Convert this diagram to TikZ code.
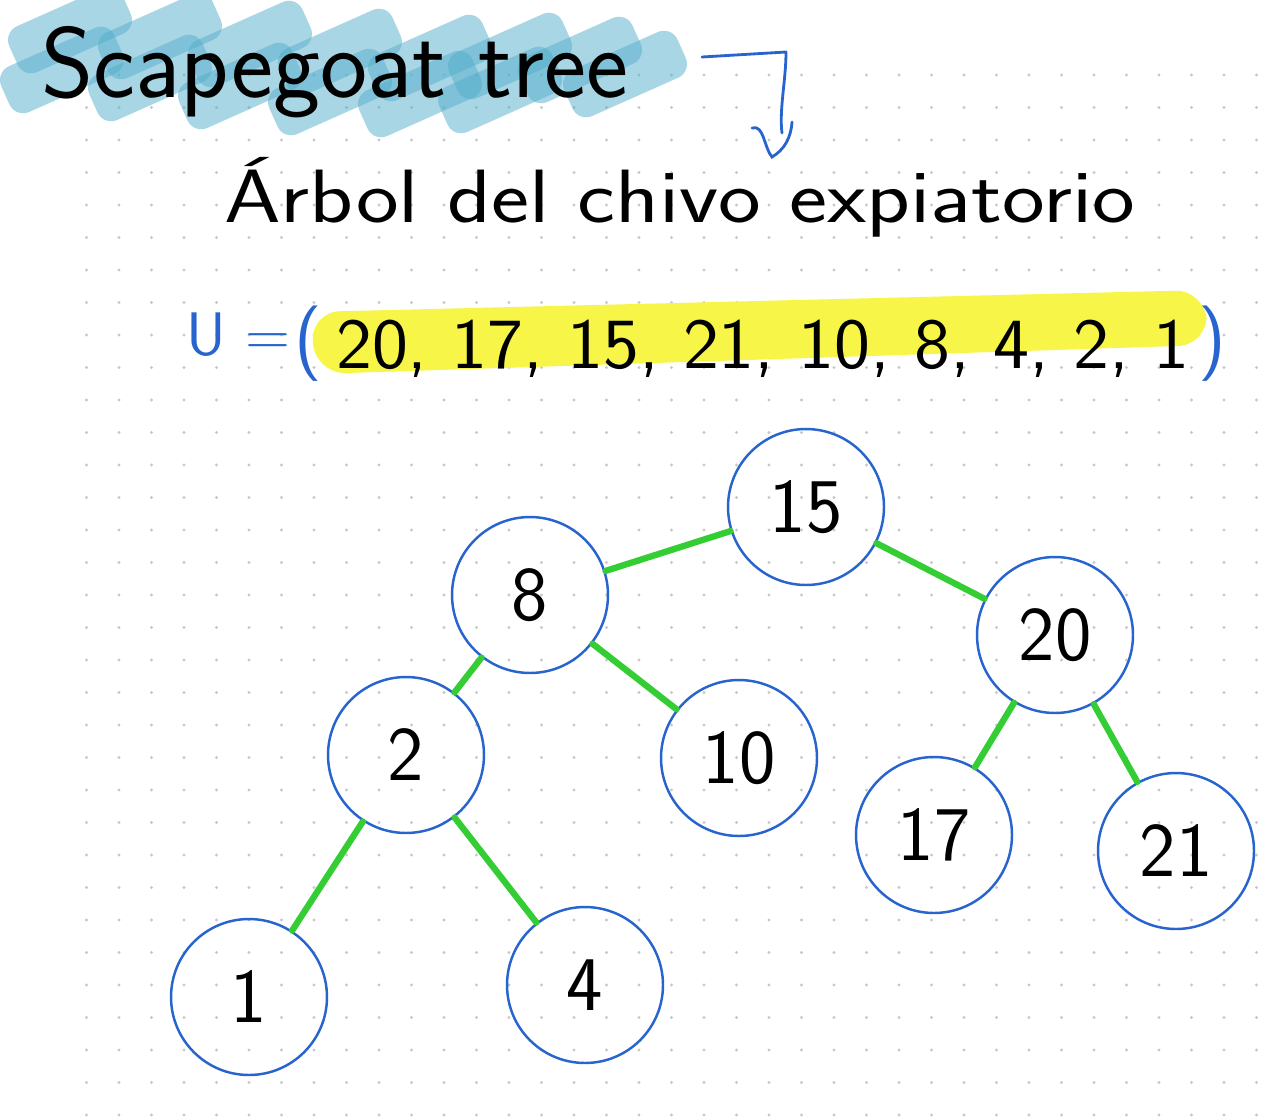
\documentclass[tikz,border=0pt]{standalone}
\usepackage{fontspec}
\definecolor{penblue}{RGB}{40,100,205}
\definecolor{edgegreen}{RGB}{52,206,52}
\definecolor{marker}{RGB}{84,174,204}
\definecolor{hilite}{RGB}{247,245,72}
\definecolor{dotgray}{RGB}{200,200,200}
\newcommand{\handfont}[1]{\sffamily\fontsize{#1}{#1}\selectfont}
\begin{document}
\begin{tikzpicture}[x=0.02cm,y=-0.02cm,
    vertex/.style={circle,draw=penblue,line width=1.4pt,minimum size=3.12cm,inner sep=0pt,font=\handfont{44}},
    edge/.style={edgegreen,line width=3.6pt,line cap=round},
    slab/.style={marker,opacity=0.5,rounded corners=0.3cm}]
    \useasboundingbox (0,0) rectangle (1280,1119);
    \fill[white] (0,0) rectangle (1280,1119);
    % dotted paper
    \foreach \i in {0,...,36}
        \foreach \j in {2,...,34}
            \fill[dotgray] (86.5+32.5*\i,10+32.5*\j) circle (0.9pt);
    % marker strokes behind the title
    \foreach \cx/\cy in {70/30,160/36,250/44,340/52,430/58,510/56,580/60,625/74,
                         62/70,150/78,240/86,330/92,420/94,500/90}
        \fill[slab,rotate around={24:(\cx,\cy)}] (\cx-62,\cy-25) rectangle (\cx+62,\cy+25);
    \node[anchor=base west,font=\handfont{57}] (title) at (35,97) {Scapegoat tree};
    \coordinate (arrS) at (702,57);
    \coordinate (arrC) at (786,52);
    \coordinate (arrE) at (782,133);
    \coordinate (tipL) at (752,128);
    \coordinate (tip) at (772,157);
    \coordinate (tipR) at (792,122);
    \draw[penblue,line width=1.6pt,line cap=round,line join=round] (arrS) -- (arrC) .. controls (786,80) and (779,110) .. (arrE);
    \draw[penblue,line width=1.6pt,line cap=round] (tipL) .. controls (764,124) and (764,148) .. (tip) .. controls (784,150) and (791,138) .. (tipR);
    \node[anchor=base west,font=\handfont{43}] (subtitle) at (218,222) {\scalebox{1.2}[1]{Árbol del chivo expiatorio}};
    % the sequence
    \fill[hilite,rounded corners=0.6cm] (310,312) -- (1205,290) -- (1208,345) -- (316,374) -- cycle;
    \node[anchor=base west,penblue,font=\handfont{35}] (useq) at (180,355) {U =};
    \node[anchor=base west,penblue,font=\handfont{43}] (lpar) at (288,362) {(};
    \node[anchor=base west,font=\handfont{41}] (seq) at (330,368) {\scalebox{1.06}[1]{20, 17, 15, 21, 10, 8, 4, 2, 1}};
    \node[anchor=base west,penblue,font=\handfont{43}] (rpar) at (1192,362) {)};
    % the tree
    \node[vertex] (n15) at (806,507) {15};
    \node[vertex] (n8) at (530,595) {8};
    \node[vertex] (n20) at (1055,635) {20};
    \node[vertex] (n2) at (406,755) {2};
    \node[vertex] (n10) at (739,758) {10};
    \node[vertex] (n17) at (934,835) {17};
    \node[vertex] (n21) at (1176,851) {21};
    \node[vertex] (n1) at (249,997) {1};
    \node[vertex] (n4) at (585,985) {4};
    \draw[edge] (n15) -- (n8);
    \draw[edge] (n15) -- (n20);
    \draw[edge] (n8) -- (n2);
    \draw[edge] (n8) -- (n10);
    \draw[edge] (n2) -- (n1);
    \draw[edge] (n2) -- (n4);
    \draw[edge] (n20) -- (n17);
    \draw[edge] (n20) -- (n21);
\end{tikzpicture}
\end{document}
